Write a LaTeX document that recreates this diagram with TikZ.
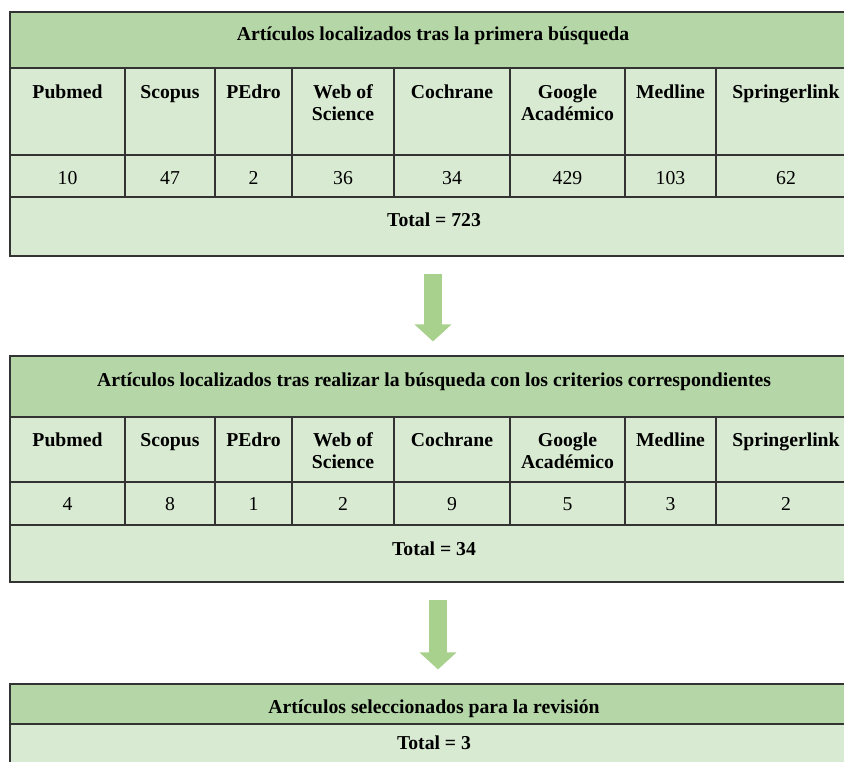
\documentclass[tikz,border=0pt]{standalone}
\usepackage{fontspec}
\setmainfont{Liberation Serif}
\usepackage{tikz}
\usetikzlibrary{arrows.meta, fit}
\usepackage{xcolor}
\definecolor{head-green}{HTML}{B5D6A7}
\definecolor{body-green}{HTML}{D9EAD3}
\definecolor{arrow-green}{HTML}{A9D18E}
\definecolor{rule-gray}{HTML}{333333}

\begin{document}
\begin{tikzpicture}[x=1pt, y=-1pt,
		box/.style={draw=rule-gray, line width=1.1pt, inner sep=0pt, fill=body-green},
		headbox/.style={box, fill=head-green},
		txt/.style={anchor=base, inner sep=0pt, font=\fontsize{19.7}{22}\selectfont},
		bold/.style={txt, font=\fontsize{19.7}{22}\selectfont\bfseries, align=center},
		flow/.style={arrow-green, line width=18pt, -{Triangle[length=17pt, width=36pt]}, shorten <=17pt, shorten >=14pt}]
	\useasboundingbox (0,0) rectangle (844,762);
	\clip (0,0) rectangle (844,762);
	
	\node[headbox, fit={(10,12) (856,68)}] (title1) {};
	\node[box, fit={(10,197) (856,256)}] (total1) {};
	\node[headbox, fit={(10,356) (856,417)}] (title2) {};
	\node[box, fit={(10,525) (856,582)}] (total2) {};
	\node[headbox, fit={(10,684) (856,724)}] (title3) {};
	\node[box, fit={(10,724) (856,780)}] (total3) {};
	
	\foreach \l/\r/\db/\dy/\na/\nb [count=\i] in {10/125/Pubmed/0/10/4, 125/215/Scopus/0/47/8, 215/292/PEdro/0/2/1, 292/394/{Web of\\Science}/22/36/2, 394/510/Cochrane/0/34/9, 510/625/{Google\\Académico}/22/429/5, 625/716/Medline/0/103/3, 716/856/Springerlink/0/62/2} {
		\node[box, fit={(\l,68) (\r,155)}] (db1\i) {};
		\node[box, fit={(\l,155) (\r,197)}] (num1\i) {};
		\node[bold] at ({(\l+\r)/2},99+\dy) (dbtext1\i) {\db};
		\node[txt] at ({(\l+\r)/2},185) (numtext1\i) {\na};
		
		\node[box, fit={(\l,417) (\r,482)}] (db2\i) {};
		\node[box, fit={(\l,482) (\r,525)}] (num2\i) {};
		\node[bold] at ({(\l+\r)/2},446+\dy) (dbtext2\i) {\db};
		\node[txt] at ({(\l+\r)/2},510) (numtext2\i) {\nb};
	}
	
	\node[bold] at (433,41) (titletext1) {Artículos localizados tras la primera búsqueda};
	\node[bold] at (434,227) (totaltext1) {Total = 723};
	\node[bold] at (434,386) (titletext2) {Artículos localizados tras realizar la búsqueda con los criterios correspondientes};
	\node[bold] at (434,555) (totaltext2) {Total = 34};
	\node[bold] at (434,713) (titletext3) {Artículos seleccionados para la revisión};
	\node[bold] at (434,749) (totaltext3) {Total = 3};
	
	\draw[flow] (total1) -- (title2);
	\draw[flow] ([xshift=5pt]total2.south) -- ([xshift=5pt]title3.north);
\end{tikzpicture}
\end{document}
